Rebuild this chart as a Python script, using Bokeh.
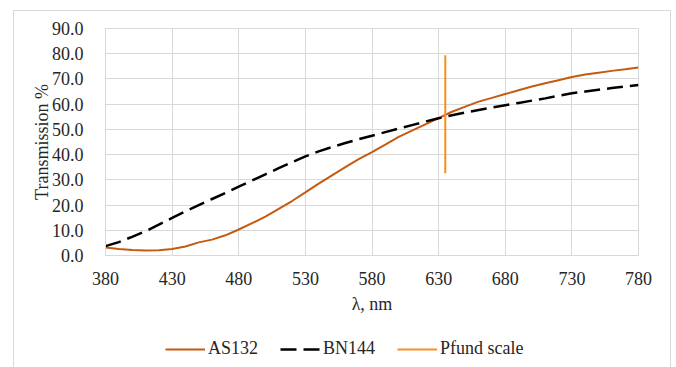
from bokeh.plotting import figure
from bokeh.layouts import column
from bokeh.models import FixedTicker, PrintfTickFormatter, Legend, LegendItem, Range1d
from bokeh.embed import file_html
from bokeh.resources import INLINE

wavelength = [380, 390, 400, 410, 420, 430, 440, 450, 460, 470, 480, 490, 500,
              510, 520, 530, 540, 550, 560, 570, 580, 590, 600, 610, 620, 630,
              640, 650, 660, 670, 680, 690, 700, 710, 720, 730, 740, 750, 760,
              770, 780]
as132 = [3.2, 2.6, 2.2, 2.0, 2.1, 2.6, 3.6, 5.2, 6.3, 8.0, 10.3, 12.8, 15.4,
         18.5, 21.6, 25.0, 28.5, 31.8, 35.0, 38.2, 41.0, 44.0, 47.0, 49.5, 52.0,
         54.5, 57.0, 59.0, 61.0, 62.5, 64.0, 65.5, 67.0, 68.3, 69.5, 70.8, 71.8,
         72.5, 73.2, 73.8, 74.5]
bn144 = [3.7, 5.3, 7.4, 9.6, 12.2, 14.9, 17.5, 20.0, 22.4, 24.8, 27.3, 29.7,
         32.2, 34.6, 37.0, 39.3, 41.3, 43.0, 44.6, 46.1, 47.5, 48.9, 50.3, 51.7,
         53.1, 54.4, 55.6, 56.7, 57.7, 58.7, 59.6, 60.5, 61.4, 62.3, 63.3, 64.3,
         65.0, 65.7, 66.4, 67.0, 67.6]
pfund_x = [635, 635]
pfund_y = [32.6, 79.4]

series_names = ["AS132", "BN144", "Pfund scale"]
x_ticks = [380, 430, 480, 530, 580, 630, 680, 730, 780]
y_ticks = [0, 10, 20, 30, 40, 50, 60, 70, 80, 90]

FONT = "Liberation Serif"
GRID = "#D9D9D9"
TXT = "#262626"
C_AS = "#C55A11"
C_PF = "#F7901E"

p = figure(width=658, height=305, output_backend="svg", toolbar_location=None,
           x_range=Range1d(380, 780), y_range=Range1d(0, 90),
           min_border_left=91, min_border_right=32, min_border_top=17,
           min_border_bottom=60)
p.outline_line_color = GRID

for ax in (p.xaxis[0], p.yaxis[0]):
    ax.axis_line_color = GRID
    ax.major_tick_line_color = None
    ax.minor_tick_line_color = None
    ax.major_label_text_font = FONT
    ax.major_label_text_font_size = "18px"
    ax.major_label_text_color = TXT
    ax.axis_label_text_font = FONT
    ax.axis_label_text_font_size = "18px"
    ax.axis_label_text_font_style = "normal"
    ax.axis_label_text_color = TXT

p.xaxis.ticker = FixedTicker(ticks=x_ticks)
p.yaxis.ticker = FixedTicker(ticks=y_ticks)
p.yaxis.formatter = PrintfTickFormatter(format="%.1f")
p.xaxis.major_label_standoff = 10
p.yaxis.major_label_standoff = 16
p.xaxis.axis_label = "λ, nm"
p.yaxis.axis_label = "Transmission %"
p.xaxis.axis_label_standoff = 6
p.yaxis.axis_label_standoff = -3

p.xgrid.ticker = FixedTicker(ticks=x_ticks)
p.ygrid.ticker = FixedTicker(ticks=y_ticks)
p.xgrid.grid_line_color = GRID
p.ygrid.grid_line_color = GRID

p.line(wavelength, as132, line_color=C_AS, line_width=2)
p.line(wavelength, bn144, line_color="black", line_width=2.5, line_dash="16 7")
p.line(pfund_x, pfund_y, line_color=C_PF, line_width=2)

# legend strip below the chart (its lines lie outside its ranges; only the legend shows)
p2 = figure(width=658, height=56, output_backend="svg", toolbar_location=None,
            x_range=Range1d(0, 1), y_range=Range1d(0, 1),
            min_border=0, min_border_left=0, min_border_right=0,
            min_border_top=0, min_border_bottom=0)
p2.axis.visible = False
p2.grid.visible = False
p2.outline_line_color = None
l1 = p2.line(wavelength, as132, line_color=C_AS, line_width=2)
l2 = p2.line(wavelength, bn144, line_color="black", line_width=2.5, line_dash="16 7")
l3 = p2.line(pfund_x, pfund_y, line_color=C_PF, line_width=2)

legend = Legend(items=[LegendItem(label=series_names[0], renderers=[l1]),
                       LegendItem(label=series_names[1], renderers=[l2]),
                       LegendItem(label=series_names[2], renderers=[l3])],
                orientation="horizontal", location=(60, 13),
                label_text_font=FONT, label_text_font_size="18px",
                label_text_color=TXT,
                glyph_width=40, glyph_height=20, label_height=20,
                label_standoff=3, spacing=22, padding=0, margin=0,
                border_line_color=None, background_fill_alpha=0)
p2.add_layout(legend, "center")

layout = column(p, p2, spacing=0)
layout.styles = {"margin-left": "13px", "margin-top": "10px",
                 "border": "1px solid #D9D9D9", "width": "658px"}

open("out.html", "w").write(file_html(layout, INLINE))
